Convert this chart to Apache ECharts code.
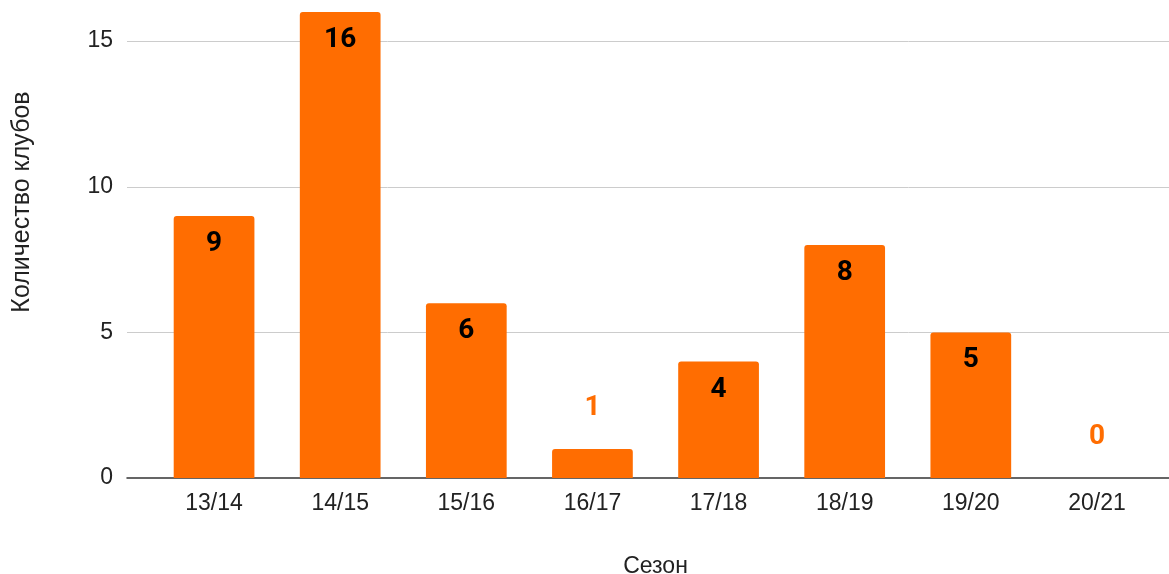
<!DOCTYPE html>
<html>
<head>
<meta charset="utf-8">
<script src="https://cdn.jsdelivr.net/npm/echarts@6/dist/echarts.min.js"></script>
<style>
html,body{margin:0;padding:0;background:#fff;}
#chart{width:1169px;height:574px;}
</style>
</head>
<body>
<div id="chart"></div>
<script>
const categories = ['13/14','14/15','15/16','16/17','17/18','18/19','19/20','20/21'];
const clubCounts = [9, 16, 6, 1, 4, 8, 5, 0];
const yTickInterval = 5;
const yMax = 16;
const xTitle = 'Сезон';
const yTitle = 'Количество клубов';

const ORANGE = '#ff6d01';
const AXIS_FONT = '"Liberation Sans", Arial, sans-serif';
const LABEL_FONT = 'Roboto, "Liberation Sans", Arial, sans-serif';

const insideLabel = {
  show: true, position: 'insideTop', distance: 14,
  color: '#000', fontFamily: LABEL_FONT, fontWeight: 'bold', fontSize: 28
};
const outsideLabel = {
  show: true, position: 'top', distance: 27,
  color: ORANGE, fontFamily: LABEL_FONT, fontWeight: 'bold', fontSize: 28
};

const barData = clubCounts.map(v => ({
  value: v,
  label: v >= 2 ? insideLabel : outsideLabel
}));

const chart = echarts.init(document.getElementById('chart'), null, {renderer: 'canvas'});
chart.setOption({
  animation: false,
  backgroundColor: '#fff',
  grid: [
    {left: 127, right: 0, top: 12, bottom: 96, containLabel: false, outerBoundsMode: 'none'},
    {left: 151, right: 9, top: 12, bottom: 96, containLabel: false, outerBoundsMode: 'none'}
  ],
  xAxis: [
    {
      gridIndex: 0, type: 'value', min: 0, max: 1,
      axisLine: {show: true, onZero: false, lineStyle: {color: '#333', width: 1.5}},
      axisTick: {show: false}, axisLabel: {show: false}, splitLine: {show: false}
    },
    {
      gridIndex: 1, type: 'category', data: categories,
      axisLine: {show: false}, axisTick: {show: false},
      axisLabel: {margin: 14, color: '#222', fontFamily: AXIS_FONT, fontSize: 23},
      name: xTitle, nameLocation: 'middle', nameGap: 77,
      nameTextStyle: {color: '#222', fontFamily: AXIS_FONT, fontSize: 23, verticalAlign: 'top'}
    }
  ],
  yAxis: [
    {
      gridIndex: 0, type: 'value', min: 0, max: yMax, interval: yTickInterval,
      axisLine: {show: false}, axisTick: {show: false},
      axisLabel: {margin: 14, color: '#222', fontFamily: AXIS_FONT, fontSize: 23, showMaxLabel: false},
      splitLine: {show: true, showMinLine: false, showMaxLine: false, lineStyle: {color: '#cccccc', width: 1}}
    },
    {
      gridIndex: 1, type: 'value', min: 0, max: yMax, interval: yTickInterval, show: false,
      splitLine: {show: false}
    }
  ],
  graphic: [{
    type: 'text', x: 22, y: 202, rotation: Math.PI / 2,
    style: {text: yTitle, fill: '#222', font: '25px ' + AXIS_FONT, align: 'center', verticalAlign: 'middle'}
  }],
  series: [{
    type: 'bar', xAxisIndex: 1, yAxisIndex: 1,
    data: barData, barWidth: '64%',
    itemStyle: {color: ORANGE, borderRadius: [3, 3, 0, 0]},
    z: 3
  }]
});
</script>
</body>
</html>
